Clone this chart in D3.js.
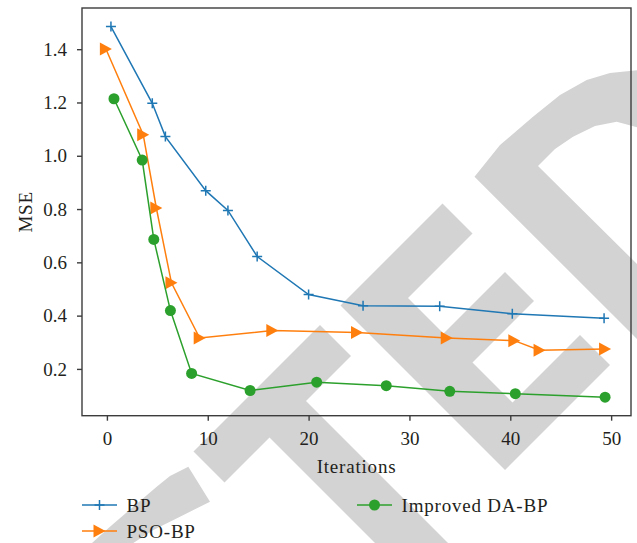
<!DOCTYPE html>
<html lang="en">
  <head>
      <meta charset="utf-8">
      <title>MSE vs Iterations</title>
      <script type="text/javascript" src="https://cdn.jsdelivr.net/npm/d3@7"></script>
      <style type="text/css">
            body { margin: 0; background: #fff; }
            text { font-family: "Liberation Serif", "Times New Roman", serif; fill: #231f20; }
            .axis path, .axis line { stroke: #3c3c3c; stroke-width: 1.4; }
            .axis text { font-size: 19px; }
            .label { font-size: 19px; letter-spacing: 0.8px; }
            .line { fill: none; stroke-width: 1.5; }
      </style>
  </head>
  <body>
      <script type="text/javascript">
        var w = 637;
        var h = 543;

        // series
        var bpIter  = [0.4, 4.5, 5.8, 9.8, 12.0, 14.9, 20.0, 25.4, 33.0, 40.2, 49.3];
        var bpMse   = [1.485, 1.197, 1.072, 0.869, 0.795, 0.622, 0.479, 0.437, 0.435, 0.407, 0.390];
        var psoIter = [-0.1, 3.6, 4.9, 6.4, 9.2, 16.4, 24.8, 33.7, 40.4, 42.9, 49.4];
        var psoMse  = [1.401, 1.079, 0.804, 0.523, 0.316, 0.344, 0.337, 0.316, 0.306, 0.270, 0.275];
        var daIter  = [0.7, 3.5, 4.65, 6.3, 8.4, 14.2, 20.8, 27.7, 34.0, 40.5, 49.4];
        var daMse   = [1.214, 0.984, 0.686, 0.419, 0.183, 0.119, 0.150, 0.137, 0.116, 0.107, 0.094];

        var xTicks = [0, 10, 20, 30, 40, 50];
        var yTicks = [0.2, 0.4, 0.6, 0.8, 1.0, 1.2, 1.4];

        var seriesNames = ["BP", "PSO-BP", "Improved DA-BP"];
        var seriesColors = ["#1f77b4", "#ff7f0e", "#2ca02c"];

        var pLeft = 82, pRight = 631, pTop = 8, pBottom = 415.7;

        var xScale = d3.scaleLinear().domain([-2.47, 51.97]).range([pLeft, pRight]);
        var yScale = d3.scaleLinear().domain([0.0244, 1.5546]).range([pBottom, pTop]);

        var svg = d3.select("body")
              .append("svg")
              .attr("width", w)
              .attr("height", h);

        // background watermark (grey letter shapes)
        var wm = [
          [[474.5,176.7],[500,145],[533,116.7],[560,95],[586.7,80],[610,73],[640,70],[640,128],[616.7,121.7],[595,126],[573,136.7],[555,149],[538,166],[640,267],[640,342]],
          [[340.5,305.5],[442.5,203.5],[472.5,233.5],[408,298],[443.5,333.5],[505,272],[534,301],[472.5,362.5],[512.5,402.5],[580,335],[610,365],[505,470]],
          [[193.5,451.5],[320,325],[351,356],[306,401],[452.5,547.5],[416,584],[269.5,437.5],[224.5,482.5]],
          [[188.3,466.7],[170,476],[156.7,486.7],[133.3,506.7],[110,526.7],[92,543],[133.3,543],[153.3,530],[180,516.7],[210,501.7]]
        ];
        svg.append("g").selectAll("path")
           .data(wm)
           .enter()
           .append("path")
           .attr("d", function(d) { return "M" + d.join("L") + "Z"; })
           .attr("fill", "#d3d3d3");

        // axes box
        svg.append("rect")
           .attr("x", pLeft).attr("y", pTop)
           .attr("width", pRight - pLeft).attr("height", pBottom - pTop)
           .attr("fill", "none")
           .attr("stroke", "#3c3c3c")
           .attr("stroke-width", 1.4);

        var xAxis = d3.axisBottom(xScale).tickValues(xTicks).tickSize(5).tickPadding(11).tickFormat(d3.format("d"));
        var yAxis = d3.axisLeft(yScale).tickValues(yTicks).tickSize(5).tickPadding(10).tickFormat(d3.format(".1f"));

        svg.append("g")
            .attr("class", "axis")
            .attr("transform", "translate(0," + pBottom + ")")
            .call(xAxis)
            .call(function(g) { g.select(".domain").remove(); g.selectAll("text").attr("font-family", null).attr("font-size", null); });

        svg.append("g")
            .attr("class", "axis")
            .attr("transform", "translate(" + pLeft + ",0)")
            .call(yAxis)
            .call(function(g) { g.select(".domain").remove(); g.selectAll("text").attr("font-family", null).attr("font-size", null); });

        svg.append("text")
            .attr("class", "label")
            .attr("transform", "translate(" + ((pLeft + pRight) / 2) + ",473)")
            .attr("text-anchor", "middle")
            .text("Iterations");

        svg.append("text")
            .attr("class", "label")
            .attr("transform", "translate(31.5," + ((pTop + pBottom) / 2) + ") rotate(-90)")
            .attr("text-anchor", "middle")
            .text("MSE");

        // markers
        function drawMarker(g, kind, color) {
          if (kind === 0) {
            g.append("path").attr("d", "M-5,0H5M0,-5V5").attr("stroke", color).attr("stroke-width", 1.5);
          } else if (kind === 1) {
            g.append("path").attr("d", "M6,0L-6,-6.5L-6,6.5Z").attr("fill", color);
          } else {
            g.append("circle").attr("r", 5.5).attr("fill", color);
          }
        }

        var line = d3.line()
              .x(function(d) { return xScale(d[0]); })
              .y(function(d) { return yScale(d[1]); });

        var allIter = [bpIter, psoIter, daIter];
        var allMse = [bpMse, psoMse, daMse];

        for (var s = 0; s < 3; s++) {
          var pts = allIter[s].map(function(v, i) { return [v, allMse[s][i]]; });
          svg.append("path")
             .datum(pts)
             .attr("class", "line")
             .attr("stroke", seriesColors[s])
             .attr("d", line);
          var mg = svg.append("g");
          for (var i = 0; i < pts.length; i++) {
            var g = mg.append("g").attr("transform", "translate(" + xScale(pts[i][0]) + "," + yScale(pts[i][1]) + ")");
            drawMarker(g, s, seriesColors[s]);
          }
        }

        // legend
        var legendPos = [[82, 505], [82, 531], [357, 505]];
        for (var k = 0; k < 3; k++) {
          var lg = svg.append("g").attr("transform", "translate(" + legendPos[k][0] + "," + legendPos[k][1] + ")");
          lg.append("line").attr("x1", 0).attr("x2", 35).attr("stroke", seriesColors[k]).attr("stroke-width", 1.5);
          drawMarker(lg.append("g").attr("transform", "translate(17.5,0)"), k, seriesColors[k]);
          lg.append("text")
            .attr("class", "label")
            .attr("x", 44.5)
            .attr("y", 7)
            .text(seriesNames[k]);
        }
      </script>
  </body>
</html>
